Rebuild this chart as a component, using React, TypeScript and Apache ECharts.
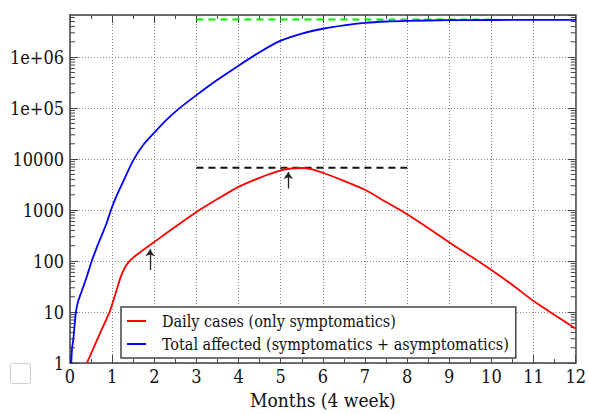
import React, { useEffect, useRef } from "react";
import * as echarts from "echarts";

// Daily cases (only symptomatics): [month, cases]
const dailyCases: [number, number][] = [
  [0.4, 1], [0.55, 1.9], [0.71, 3.8], [0.95, 10.6], [1.1, 26], [1.2, 48], [1.3, 74], [1.4, 98],
  [1.5, 117], [1.6, 136], [1.7, 157], [1.8, 181], [1.9, 208], [2.0, 238], [2.25, 335],
  [2.5, 470], [3.0, 920], [3.5, 1650], [4.0, 2850], [4.5, 4300], [5.0, 6000], [5.25, 6550],
  [5.5, 6700], [5.75, 6300], [6.0, 5400], [6.5, 3750], [7.0, 2500], [7.5, 1440], [8.0, 830],
  [8.5, 445], [9.0, 232], [9.5, 126], [10.0, 67], [10.5, 34], [11.0, 16.5], [11.5, 8.8],
  [12.0, 4.7],
];

// Total affected (symptomatics + asymptomatics): [month, persons]
const totalAffected: [number, number][] = [
  [0.03, 1], [0.05, 2], [0.08, 3], [0.14, 10], [0.2, 17], [0.28, 26], [0.4, 50], [0.51, 97],
  [0.63, 180], [0.75, 316], [0.87, 560], [0.99, 1100], [1.1, 1860], [1.25, 3460], [1.5, 9450],
  [1.75, 19500], [2.0, 33000], [2.3, 60000], [2.6, 100000], [3.0, 180000], [3.5, 360000],
  [4.0, 680000], [4.5, 1250000], [5.0, 2100000], [5.5, 2900000], [6.0, 3600000],
  [6.5, 4200000], [7.0, 4700000], [7.5, 5000000], [8.0, 5150000], [9.0, 5300000],
  [10.0, 5350000], [11.0, 5380000], [12.0, 5400000],
];

// Reference lines
const peakLine: [number, number][] = [[3, 6800], [8, 6800]];
const plateauLine: [number, number][] = [[3, 5450000], [10, 5450000]];

// Arrows: [from, to]
const arrows: [number, number][][] = [
  [[1.9, 67], [1.9, 170]],
  [[5.18, 2650], [5.18, 5600]],
];

const xTickLabels = ["0", "1", "2", "3", "4", "5", "6", "7", "8", "9", "10", "11", "12"];
const yTickLabels = ["1", "10", "100", "1000", "10000", "1e+05", "1e+06"];
const seriesNames = ["Daily cases (only symptomatics)", "Total affected (symptomatics + asymptomatics)"];

const X_MIN = 0;
const X_MAX = 12;
const Y_MIN = 1;
const Y_MAX = 6.7e6;

// minor log ticks 2..9 in every decade
const minorTicks: [number, number][] = [];
for (let k = 0; k < 7; k++) {
  for (let m = 2; m <= 9; m++) {
    const v = m * Math.pow(10, k);
    if (v < Y_MAX) minorTicks.push([0, v]);
  }
}

const FONT = "DejaVu Serif Condensed";
const FRAME = "#444";

export default function App() {
  const ref = useRef<HTMLDivElement>(null);
  useEffect(() => {
    document.body.style.margin = "0";
    const chart = echarts.init(ref.current!, null, { renderer: "svg" });
    const axisCommon = {
      axisLine: { show: true, onZero: false, lineStyle: { color: FRAME, width: 1.5 } },
    };
    const xBase = {
      type: "value",
      min: X_MIN,
      max: X_MAX,
      interval: 1,
      ...axisCommon,
      axisTick: { show: true, inside: true, length: 8, lineStyle: { color: FRAME, width: 1 } },
      minorTick: { show: true, splitNumber: 2, length: 4, lineStyle: { color: FRAME, width: 1 } },
    };
    const yBase = {
      type: "log",
      logBase: 10,
      min: Y_MIN,
      max: Y_MAX,
      ...axisCommon,
      axisTick: { show: true, inside: true, length: 8, lineStyle: { color: FRAME, width: 1 } },
    };
    chart.setOption({
      animation: false,
      backgroundColor: "#fff",
      textStyle: { fontFamily: FONT },
      grid: { left: 70, right: 12, top: 15, bottom: 44, show: false },
      xAxis: [
        {
          ...xBase,
          position: "bottom",
          name: "Months (4 week)",
          nameLocation: "middle",
          nameGap: 26,
          nameTextStyle: { fontFamily: FONT, fontSize: 19, color: "#111" },
          axisLabel: {
            fontFamily: FONT,
            fontSize: 18,
            color: "#111",
            margin: 4,
            formatter: (v: number) => xTickLabels[Math.round(v)] ?? "",
          },
          splitLine: { show: true, lineStyle: { color: "#888", type: [1, 2], width: 1 } },
        },
        {
          ...xBase,
          position: "top",
          axisLabel: { show: false },
          splitLine: { show: false },
        },
      ],
      yAxis: [
        {
          ...yBase,
          position: "left",
          axisLabel: {
            fontFamily: FONT,
            fontSize: 18,
            color: "#111",
            margin: 6,
            showMaxLabel: false,
            formatter: (v: number) => yTickLabels[Math.round(Math.log10(v))] ?? "",
          },
          splitLine: { show: true, lineStyle: { color: "#888", type: [1, 2], width: 1 } },
        },
        {
          ...yBase,
          position: "right",
          axisLabel: { show: false },
          splitLine: { show: false },
        },
      ],
      legend: {
        data: seriesNames,
        orient: "vertical",
        left: 121,
        top: 307,
        backgroundColor: "#fff",
        borderColor: FRAME,
        borderWidth: 1.5,
        borderRadius: 0,
        padding: [4, 7, 4, 6],
        icon: "rect",
        itemWidth: 19,
        itemHeight: 2,
        itemGap: 3,
        textStyle: {
          fontFamily: FONT,
          fontSize: 16,
          color: "#111",
          lineHeight: 20,
          padding: [0, 0, 0, 11],
        },
      },
      series: [
        {
          type: "custom",
          name: "minorTicks",
          silent: true,
          data: minorTicks,
          encode: { x: 0, y: 1 },
          renderItem: (params: any, api: any) => {
            const v = api.value(1);
            const pl = api.coord([X_MIN, v]);
            const pr = api.coord([X_MAX, v]);
            return {
              type: "group",
              children: [
                { type: "line", shape: { x1: pl[0], y1: pl[1], x2: pl[0] + 5, y2: pl[1] }, style: { stroke: FRAME, lineWidth: 1 } },
                { type: "line", shape: { x1: pr[0], y1: pr[1], x2: pr[0] - 5, y2: pr[1] }, style: { stroke: FRAME, lineWidth: 1 } },
              ],
            };
          },
          z: 1,
        },
        {
          type: "line",
          name: "peak",
          data: peakLine,
          showSymbol: false,
          symbol: "none",
          lineStyle: { color: "#111", width: 2, type: [7, 5] },
          z: 3,
        },
        {
          type: "line",
          name: "plateau",
          data: plateauLine,
          showSymbol: false,
          symbol: "none",
          lineStyle: { color: "#00ee00", width: 2, type: [7, 5] },
          z: 4,
        },
        {
          type: "line",
          name: seriesNames[0],
          data: dailyCases,
          showSymbol: false,
          symbol: "none",
          smooth: 0.2,
          color: "#ff0000",
          lineStyle: { color: "#ff0000", width: 1.8 },
          z: 5,
        },
        {
          type: "line",
          name: seriesNames[1],
          data: totalAffected,
          showSymbol: false,
          symbol: "none",
          smooth: 0.2,
          color: "#0000ff",
          lineStyle: { color: "#0000ff", width: 1.8 },
          z: 5,
        },
        {
          type: "lines",
          name: "arrows",
          coordinateSystem: "cartesian2d",
          data: arrows.map((c) => ({ coords: c })),
          symbol: ["none", "arrow"],
          symbolSize: [5, 7],
          lineStyle: { color: "#222", width: 1.3, opacity: 1 },
          z: 6,
        },
      ],
      graphic: [
        {
          type: "rect",
          left: 10,
          top: 363,
          shape: { width: 20, height: 20, r: 2 },
          style: { fill: "#fff", stroke: "#cfcfcf", lineWidth: 1 },
        },
      ],
    });
    return () => chart.dispose();
  }, []);
  return <div ref={ref} style={{ width: 589, height: 414 }} />;
}
